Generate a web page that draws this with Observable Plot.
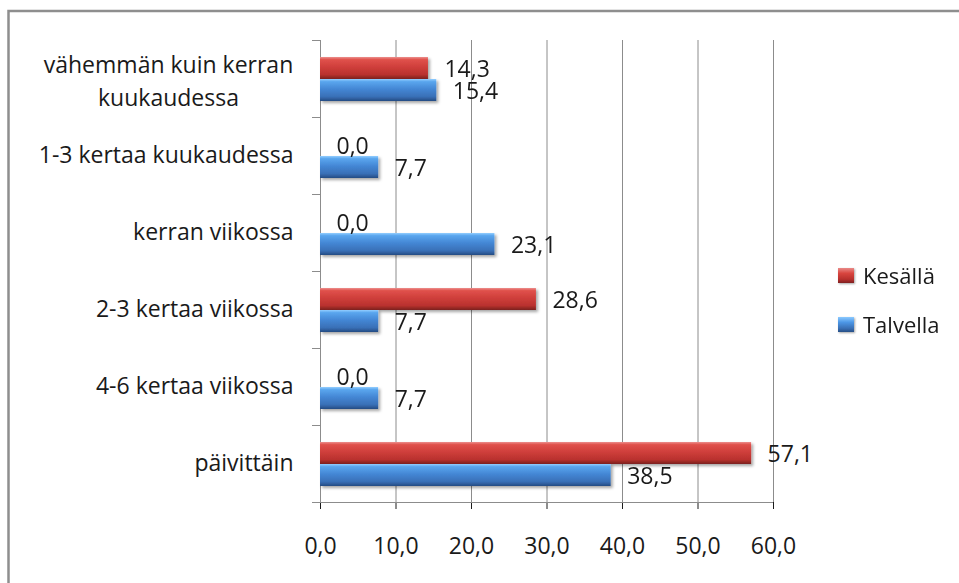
<!DOCTYPE html>
<html>
<head>
<meta charset="utf-8">
<script src="https://cdn.jsdelivr.net/npm/d3@7"></script>
<script src="https://cdn.jsdelivr.net/npm/@observablehq/plot@0.6"></script>
<style>
  html, body { margin: 0; padding: 0; background: #fff; }
  #wrap { position: relative; width: 959px; height: 583px; overflow: hidden; font-family: "Open Sans", sans-serif; }
  #legend { position: absolute; left: 838px; top: 259px; font-size: 22px; color: #1a1a1a; }
  .item { display: flex; align-items: center; height: 32px; margin-bottom: 17px; }
  .sw { width: 16px; height: 15px; margin-right: 9px; box-shadow: 1px 1px 2px rgba(0,0,0,0.35); }
  g[aria-label="x-axis tick"] { stroke: #8c8c8c; }
</style>
</head>
<body>
<div id="wrap"></div>
<script>
const categories = ["vähemmän kuin kerran kuukaudessa", "1-3 kertaa kuukaudessa", "kerran viikossa", "2-3 kertaa viikossa", "4-6 kertaa viikossa", "päivittäin"];
const categoryLabels = ["vähemmän kuin kerran\nkuukaudessa", "1-3 kertaa kuukaudessa", "kerran viikossa", "2-3 kertaa viikossa", "4-6 kertaa viikossa", "päivittäin"];
const series = ["Kesällä", "Talvella"];
const kesalla = [14.3, 0.0, 0.0, 28.6, 0.0, 57.1];
const talvella = [15.4, 7.7, 23.1, 7.7, 7.7, 38.5];
const xTicks = [0, 10, 20, 30, 40, 50, 60];
const seriesFill = ["url(#gradRed)", "url(#gradBlue)"];
const legendCss = ["linear-gradient(#e98a88, #d9453f 35%, #b8302d 75%, #7e2120)", "linear-gradient(#8ccaff, #4d97e6 35%, #3a70b5 75%, #274f86)"];

const fmt = v => v.toFixed(1).replace(".", ",");
const rows = categories.flatMap((c, i) => [
  {cat: c, series: series[0], value: kesalla[i]},
  {cat: c, series: series[1], value: talvella[i]}
]);
const labelOf = new Map(categories.map((c, i) => [c, categoryLabels[i]]));
const multi = categories.filter((c, i) => categoryLabels[i].includes("\n"));

const plot = Plot.plot({
  width: 959,
  height: 583,
  marginLeft: 320,
  marginRight: 186,
  marginTop: 40,
  marginBottom: 81,
  style: {fontSize: "23px", fontFamily: "Open Sans, sans-serif", color: "#1a1a1a", background: "transparent", overflow: "visible"},
  x: {domain: [0, 60], ticks: xTicks, tickFormat: fmt, tickSize: 7, tickPadding: 28, label: null},
  fy: {domain: categories, padding: 0, axis: "left", label: null, tickSize: 0, tickPadding: 27,
       tickFormat: c => labelOf.get(c).includes("\n") ? "" : labelOf.get(c)},
  y: {domain: series, paddingInner: 0, paddingOuter: 0.75, axis: null},
  color: {type: "ordinal", domain: series, range: seriesFill},
  marks: [
    Plot.ruleX(xTicks.slice(1), {stroke: "#8c8c8c", strokeWidth: 1}),
    Plot.ruleX([0], {stroke: "#8c8c8c", strokeWidth: 1}),
    Plot.barX(rows, {fy: "cat", y: "series", x: "value", fill: "series"}),
    Plot.text(rows, {fy: "cat", y: "series", x: "value", text: d => fmt(d.value), textAnchor: "start", dx: 16, dy: 1}),
    Plot.text(multi, {fy: d => d, text: d => labelOf.get(d), frameAnchor: "left", dx: -152, textAnchor: "middle", lineAnchor: "middle", lineHeight: 1.42})
  ]
});

const svg = d3.select(plot);
const defs = svg.insert("defs", ":first-child");
function grad(id, stops) {
  const g = defs.append("linearGradient").attr("id", id).attr("x1", 0).attr("y1", 0).attr("x2", 0).attr("y2", 1);
  stops.forEach(([o, c]) => g.append("stop").attr("offset", o).attr("stop-color", c));
}
grad("gradRed", [[0, "#ec8f8d"], [0.12, "#e0514c"], [0.45, "#cf3f3b"], [0.8, "#b9312e"], [1, "#7a201e"]]);
grad("gradBlue", [[0, "#93ceff"], [0.12, "#5aa6ee"], [0.45, "#4487d5"], [0.8, "#3970b7"], [1, "#244c83"]]);
const f = defs.append("filter").attr("id", "shadow").attr("x", "-5%").attr("y", "-30%").attr("width", "115%").attr("height", "180%");
f.append("feDropShadow").attr("dx", 2).attr("dy", 2).attr("stdDeviation", 1.5).attr("flood-opacity", 0.35);
svg.selectAll('g[aria-label="bar"]').attr("filter", "url(#shadow)");

// axis lines and category boundary ticks, from Plot's own scales
const xs = plot.scale("x"), fys = plot.scale("fy");
const fyStart = c => fys.apply ? fys.apply(c) : d3.scaleBand(fys.domain, fys.range)(c);
const bw = fys.bandwidth;
const x0 = xs.apply(0), x1 = xs.apply(60);
const bounds = categories.map(fyStart).concat([fyStart(categories[categories.length - 1]) + bw]);
const g = svg.append("g").attr("stroke", "#8c8c8c").attr("stroke-width", 1).attr("shape-rendering", "crispEdges");
bounds.forEach(b => g.append("line").attr("x1", x0 - 8).attr("x2", x0).attr("y1", b).attr("y2", b));
g.append("line").attr("x1", x0 - 8).attr("x2", x1).attr("y1", bounds[bounds.length - 1]).attr("y2", bounds[bounds.length - 1]);
// chart border
svg.append("rect").attr("x", 8.5).attr("y", 11).attr("width", 1000).attr("height", 1000)
  .attr("fill", "none").attr("stroke", "#8e8e8e").attr("stroke-width", 2.5);

const wrap = document.getElementById("wrap");
wrap.appendChild(plot);
const legend = document.createElement("div");
legend.id = "legend";
series.forEach((s, i) => {
  const it = document.createElement("div");
  it.className = "item";
  const sw = document.createElement("span");
  sw.className = "sw";
  sw.style.background = legendCss[i];
  const t = document.createElement("span");
  t.textContent = s;
  it.appendChild(sw); it.appendChild(t);
  legend.appendChild(it);
});
wrap.appendChild(legend);
</script>
</body>
</html>
